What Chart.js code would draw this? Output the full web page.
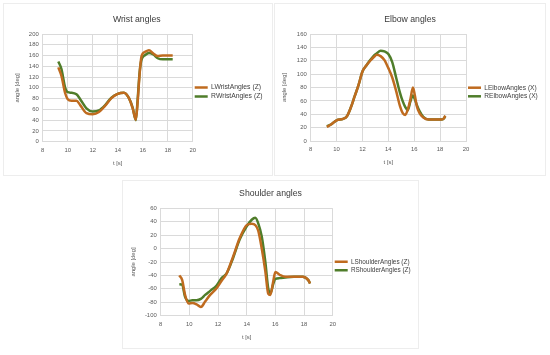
<!DOCTYPE html>
<html>
<head>
<meta charset="utf-8">
<script src="https://cdn.jsdelivr.net/npm/chart.js@4.4.1/dist/chart.umd.min.js"></script>
<style>
  body { margin: 0; background: #fff; width: 550px; height: 355px; position: relative; overflow: hidden; }
  .frame { position: absolute; border: 1px solid #ededed; box-sizing: border-box; }
  canvas { position: absolute; }
</style>
</head>
<body>
<div class="frame" style="left:3px;top:3px;width:270px;height:173px"></div>
<div class="frame" style="left:274px;top:3px;width:272px;height:173px"></div>
<div class="frame" style="left:122px;top:180px;width:297px;height:169px"></div>
<canvas id="wrist" width="270" height="173" style="left:3px;top:3px"></canvas>
<canvas id="elbow" width="272" height="173" style="left:274px;top:3px"></canvas>
<canvas id="shoulder" width="297" height="169" style="left:122px;top:180px"></canvas>
<script>
// time [s] and angles [deg]
const wristT = [9.25, 9.5, 9.8, 10.0, 10.3, 10.7, 11.0, 11.5, 12.0, 12.5, 13.0, 13.5, 14.0, 14.5, 14.9, 15.2, 15.45, 15.6, 15.75, 15.9, 16.2, 16.5, 16.85, 17.2, 17.6, 18.0, 18.4];
const wristL = [138, 122, 90, 79, 76, 76, 68, 53, 51, 55, 67, 81, 89, 91, 81, 62, 41, 75, 125, 158, 167, 170, 164, 159, 160, 160, 160];
const wristR = [149, 135, 100, 92, 91, 88, 79, 62, 56, 58, 68, 82, 89, 91, 81, 63, 40, 80, 128, 152, 161, 165, 162, 155, 153, 153, 153];

const elbowT = [9.25, 9.6, 10.0, 10.5, 10.8, 11.1, 11.4, 11.7, 12.0, 12.3, 12.6, 12.9, 13.1, 13.4, 13.7, 14.0, 14.3, 14.6, 14.9, 15.1, 15.3, 15.5, 15.7, 15.9, 16.05, 16.2, 16.4, 16.7, 17.1, 17.6, 18.1, 18.3, 18.4];
const elbowL = [21, 25, 31, 33, 37, 50, 67, 84, 104, 113, 120, 126, 129, 127, 121, 109, 95, 75, 52, 42, 39, 47, 62, 80, 68, 52, 42, 35, 32, 32, 32, 34, 38];
const elbowR = [22, 25, 31, 33, 37, 50, 67, 84, 104, 113, 121, 128, 131, 135, 134, 130, 118, 95, 72, 60, 51, 46, 59, 68, 62, 54, 45, 36, 32, 32, 32, 34, 37];

const shoulderT = [9.3, 9.5, 9.7, 9.95, 10.2, 10.5, 10.8, 11.1, 11.45, 11.9, 12.25, 12.6, 13.05, 13.5, 14.0, 14.35, 14.6, 14.8, 15.05, 15.3, 15.5, 15.65, 15.85, 16.0, 16.3, 16.7, 17.3, 17.9, 18.3, 18.42];
const shoulderL = [-40, -47, -69, -82, -81, -83, -87, -79, -69, -59, -48, -37, -12, 15, 35, 37, 35, 27, 0, -34, -67, -69, -49, -35, -39, -42, -42, -42, -47, -52];
const shoulderR = [-53, -54, -72, -78, -77, -77, -75, -69, -63, -55, -44, -37, -14, 13, 33, 43, 46, 38, 18, -20, -59, -67, -53, -45, -44, -43, -42, -42, -47, -52];

const xRange = [8, 20, 2];
const wristY = [0, 200, 20];
const elbowY = [0, 160, 20];
const shoulderY = [-100, 60, 20];

const L_COLOR = '#bf6b1f';
const R_COLOR = '#4f7d2a';
const GRID = '#dadada';

Chart.defaults.font.family = "'Liberation Sans', Arial, sans-serif";
Chart.defaults.color = '#595959';

function pts(t, v) {
  return t.map((x, i) => ({ x: x, y: v[i] }));
}

function drawPanel(id, p) {
  return new Chart(document.getElementById(id), {
    type: 'line',
    data: {
      datasets: [
        { label: p.names[0], data: pts(p.t, p.l), borderColor: L_COLOR, backgroundColor: L_COLOR },
        { label: p.names[1], data: pts(p.t, p.r), borderColor: R_COLOR, backgroundColor: R_COLOR },
      ],
    },
    options: {
      responsive: false,
      animation: false,
      datasets: { line: { borderWidth: 2.5, pointRadius: 0, cubicInterpolationMode: 'monotone', fill: false } },
      layout: { padding: { top: p.padTop, right: p.padRight, bottom: 0, left: 0 } },
      plugins: {
        tooltip: { enabled: false },
        title: {
          display: true, text: p.title, color: '#3a3a3a',
          font: { size: 8.7, weight: 'normal' },
          padding: { top: p.titlePad[0], bottom: p.titlePad[1] },
        },
        legend: {
          position: 'right',
          maxWidth: p.legendW,
          labels: {
            boxWidth: 13, boxHeight: 2.5, padding: 2, color: '#404040',
            font: { size: p.legendFont },
            generateLabels: (chart) =>
              Chart.defaults.plugins.legend.labels.generateLabels(chart).map(l => ({ ...l, lineWidth: 0 })),
          },
        },
      },
      scales: {
        x: {
          type: 'linear', min: xRange[0], max: xRange[1],
          ticks: { stepSize: xRange[2], padding: 5.3, font: { size: 5.9 } },
          grid: { color: GRID, drawTicks: false },
          border: { color: GRID },
          title: { display: true, text: 't [s]', font: { size: 5.9 }, padding: { top: 0, bottom: p.xTitlePad } },
          afterFit: (s) => { s.height = p.xH; },
        },
        y: {
          min: p.yr[0], max: p.yr[1],
          ticks: { stepSize: p.yr[2], padding: 4, font: { size: 5.9 } },
          grid: { color: GRID, drawTicks: false },
          border: { color: GRID },
          title: { display: true, text: 'angle [deg]', font: { size: 5.9 }, padding: { top: p.yTitlePad, bottom: 0 } },
          afterFit: (s) => { s.width = p.yW; },
        },
      },
    },
  });
}

drawPanel('wrist', {
  title: 'Wrist angles', names: ['LWristAngles (Z)', 'RWristAngles (Z)'],
  t: wristT, l: wristL, r: wristR, yr: wristY,
  padTop: 5, padRight: 2.5, titlePad: [6.8, 8.8], legendW: 77.8, legendFont: 6.8,
  xH: 34.3, xTitlePad: 9.5, yW: 39.7, yTitlePad: 10.5,
});

drawPanel('elbow', {
  title: 'Elbow angles', names: ['LElbowAngles (X)', 'RElbowAngles (X)'],
  t: elbowT, l: elbowL, r: elbowR, yr: elbowY,
  padTop: 5, padRight: 0, titlePad: [6.8, 8.8], legendW: 80, legendFont: 6.6,
  xH: 35, xTitlePad: 9.8, yW: 36.7, yTitlePad: 6.5,
});

drawPanel('shoulder', {
  title: 'Shoulder angles', names: ['LShoulderAngles (Z)', 'RShoulderAngles (Z)'],
  t: shoulderT, l: shoulderL, r: shoulderR, yr: shoulderY,
  padTop: 3, padRight: 0, titlePad: [5.8, 9.1], legendW: 86.3, legendFont: 6.4,
  xH: 33.3, xTitlePad: 8.5, yW: 38.7, yTitlePad: 7.5,
});
</script>
</body>
</html>
